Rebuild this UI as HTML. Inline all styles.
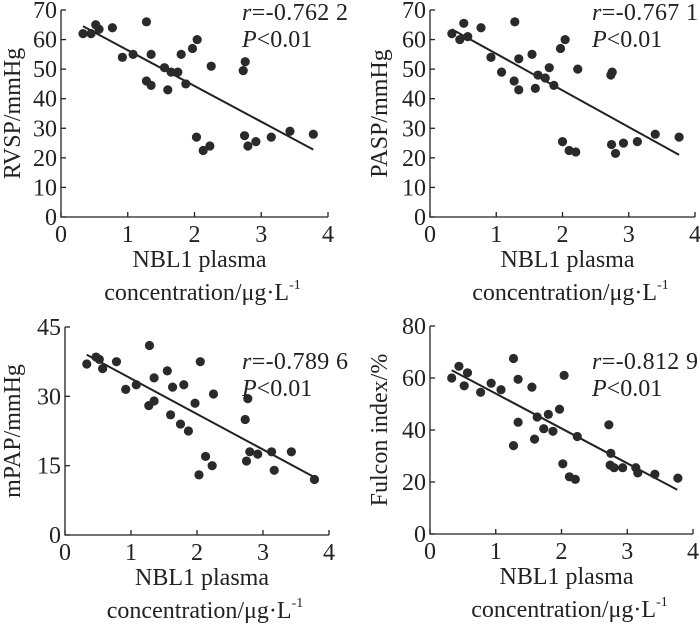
<!DOCTYPE html>
<html><head><meta charset="utf-8"><style>
html,body{margin:0;padding:0;background:#fff;width:700px;height:625px;overflow:hidden}
svg{display:block;font-family:"Liberation Serif",serif}
</style></head><body>
<svg id="c" width="700" height="625"></svg>
<script>
const xTicks=[0,1,2,3,4];
const p1X=[0.33,0.45,0.52,0.57,0.77,0.92,1.08,1.28,1.28,1.35,1.35,1.55,1.6,1.65,1.75,1.8,1.87,1.97,2.04,2.03,2.13,2.23,2.25,2.73,2.76,2.75,2.8,2.92,3.15,3.43,3.78];
const p1Y=[62,62,65,63.5,64,54,55,66,46,55,44.5,50.5,43,49,49,55,45,57,60,27,22.5,24,51,49.5,52.5,27.5,24,25.5,27,29,28];
const p1Fit=[[0.33,64.5],[3.78,22.8]];
const p2X=[0.33,0.45,0.51,0.57,0.77,0.92,1.08,1.28,1.27,1.34,1.34,1.54,1.59,1.63,1.74,1.8,1.87,1.97,2.04,2.0,2.1,2.2,2.23,2.73,2.75,2.74,2.8,2.92,3.13,3.4,3.76];
const p2Y=[62,60,65.5,61,64,54,49,66,46,53.5,43,55,43.5,48,47,50.5,44.5,57,60,25.5,22.5,22,50,48,49,24.5,21.5,25,25.5,28,27];
const p2Fit=[[0.33,63.5],[3.76,21]];
const p3X=[0.33,0.47,0.52,0.57,0.78,0.92,1.08,1.28,1.27,1.35,1.35,1.55,1.6,1.63,1.75,1.8,1.87,1.97,2.03,2.05,2.13,2.23,2.25,2.73,2.77,2.75,2.8,2.92,3.13,3.17,3.43,3.78];
const p3Y=[37,38.5,38,36,37.5,31.5,32.5,41,28,34,29,35.5,26,32,24,32.5,22.5,28.5,13,37.5,17,15,30.5,25,29.5,16,18,17.5,18,14,18,12];
const p3Fit=[[0.33,39],[3.78,12.5]];
const p4X=[0.33,0.44,0.52,0.57,0.77,0.93,1.08,1.27,1.27,1.34,1.34,1.55,1.59,1.63,1.73,1.8,1.87,1.97,2.04,2.02,2.12,2.21,2.24,2.72,2.75,2.74,2.8,2.93,3.13,3.16,3.42,3.77];
const p4Y=[60,64.5,57,62,54.5,58,55.5,67.5,34,59.5,43,56.5,36.5,45,40.5,46,39.5,48,61,27,22,21,37.5,42,31,26.5,25.5,25.5,25.5,23.5,23,21.5];
const p4Fit=[[0.33,63],[3.76,17]];
const p1Ticks=[0,10,20,30,40,50,60,70];
const p3Ticks=[0,15,30,45];
const p4Ticks=[0,20,40,60,80];

const NS="http://www.w3.org/2000/svg";
const svg=document.getElementById('c');
function mk(t,a,parent){const e=document.createElementNS(NS,t);for(const k in a)e.setAttribute(k,a[k]);(parent||svg).appendChild(e);return e;}
const FS=24;
const panels=[
 {key:'rvsp',x0:61,x1:328,y0:217,y1:10,ymax:70,X:p1X,Y:p1Y,fit:p1Fit,ticks:p1Ticks,title:'RVSP/mmHg',r:'=-0.762 2',rx:242,ry:20,tl:20},
 {key:'pasp',x0:430,x1:695,y0:217,y1:10,ymax:70,X:p2X,Y:p2Y,fit:p2Fit,ticks:p1Ticks,title:'PASP/mmHg',r:'=-0.767 1',rx:592,ry:20,tl:387},
 {key:'mpap',x0:65,x1:329,y0:535,y1:327,ymax:45,X:p3X,Y:p3Y,fit:p3Fit,ticks:p3Ticks,title:'mPAP/mmHg',r:'=-0.789 6',rx:242,ry:369,tl:20},
 {key:'fulcon',x0:430,x1:693,y0:534,y1:326,ymax:80,X:p4X,Y:p4Y,fit:p4Fit,ticks:p4Ticks,title:'Fulcon index/%',r:'=-0.812 9',rx:592,ry:369,tl:387}
];
panels.forEach(p=>{
 const g=mk('g',{});
 
 
 const sx=v=>p.x0+(p.x1-p.x0)*v/4;
 const sy=v=>p.y0+(p.y1-p.y0)*v/p.ymax;
 const ax=mk('path',{d:`M${p.x0} ${sy(p.ymax)}V${p.y0}H${p.x1}`,stroke:'#222','stroke-width':1.3,fill:'none'},g);
 
 
 xTicks.forEach(t=>{
  mk('line',{x1:sx(t),x2:sx(t),y1:p.y0,y2:p.y0-5,stroke:'#222','stroke-width':1.3},g);
  const tx=mk('text',{x:sx(t),y:p.y0+25,'font-size':FS,'text-anchor':'middle',fill:'#222'},g);
  tx.textContent=t;
  
  
 });
 p.ticks.forEach(t=>{
  mk('line',{x1:p.x0,x2:p.x0+5,y1:sy(t),y2:sy(t),stroke:'#222','stroke-width':1.3},g);
  const tx=mk('text',{x:p.x0-4,y:sy(t)+8,'font-size':FS,'text-anchor':'end',fill:'#222'},g);
  tx.textContent=t;
  
  
 });
 const yt=mk('text',{x:0,y:0,'font-size':FS,'text-anchor':'middle',fill:'#222',transform:`translate(${p.tl},${(p.y0+sy(p.ymax))/2}) rotate(-90)`},g);
 yt.textContent=p.title;
 
 
 const cx=(p.x0+p.x1)/2;
 const xt=mk('text',{x:cx+5,y:p.y0+50,'font-size':FS,'text-anchor':'middle',fill:'#222'},g);
 xt.textContent='NBL1 plasma';
 
 
 const xt2=mk('text',{x:cx+8,y:p.y0+83,'font-size':FS,'text-anchor':'middle',fill:'#222'},g);
 xt2.innerHTML='concentration/μg·L<tspan dy="-11" font-size="14">-1</tspan>';
 
 
 const fl=mk('line',{x1:sx(p.fit[0][0]),y1:sy(p.fit[0][1]),x2:sx(p.fit[1][0]),y2:sy(p.fit[1][1]),stroke:'#222','stroke-width':2},g);
 
 
 p.X.forEach((v,i)=>{
  const c=mk('circle',{cx:sx(v),cy:sy(p.Y[i]),r:4.6,fill:'#2a2a2a'},g);
  
  
 });
 const rt=mk('text',{x:p.rx,y:p.ry,'font-size':FS,fill:'#222',textLength:106,lengthAdjust:'spacing'},g);
 rt.innerHTML='<tspan font-style="italic">r</tspan>'+p.r;
 
 
 const pt=mk('text',{x:p.rx,y:p.ry+27,'font-size':FS,fill:'#222'},g);
 pt.innerHTML='<tspan font-style="italic">P</tspan>&lt;0.01';
 
 
});
</script>
</body></html>
